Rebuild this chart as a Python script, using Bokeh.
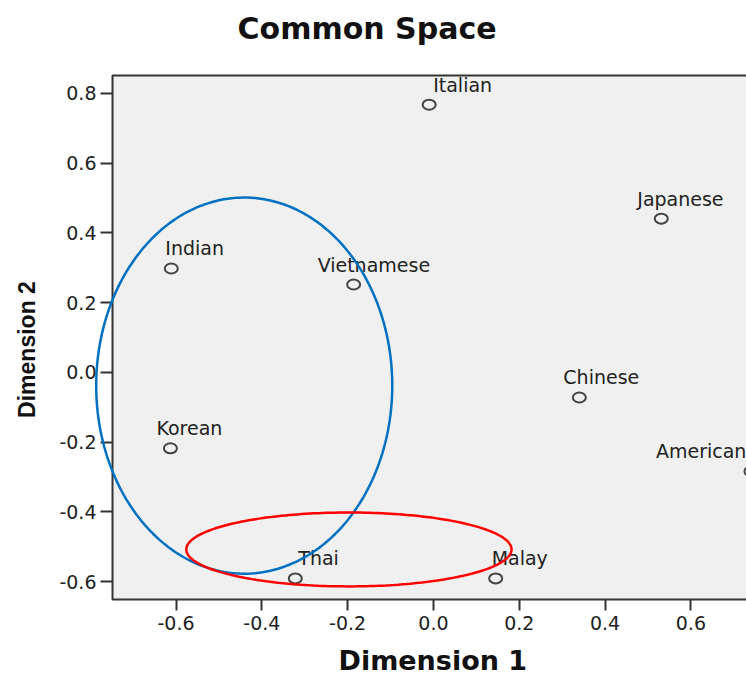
import numpy as np
from bokeh.plotting import figure
from bokeh.models import (ColumnDataSource, LabelSet, Label, FixedTicker, PrintfTickFormatter,
                          PolyAnnotation, BoxAnnotation, Range1d)
from bokeh.core.properties import value
from bokeh.embed import file_html
from bokeh.resources import INLINE

# ---- data ----
cuisines = ["Italian", "Japanese", "Indian", "Vietnamese", "Chinese", "Korean", "American", "Thai", "Malay"]
dim1 = [-0.010, 0.531, -0.611, -0.186, 0.340, -0.613, 0.740, -0.322, 0.145]
dim2 = [0.768, 0.441, 0.298, 0.252, -0.072, -0.218, -0.284, -0.591, -0.591]
x_ticks = [-0.6, -0.4, -0.2, 0.0, 0.2, 0.4, 0.6]
y_ticks = [-0.6, -0.4, -0.2, 0.0, 0.2, 0.4, 0.6, 0.8]
x_min, x_max = -0.748, 0.7296
y_min, y_max = -0.6516, 0.8516

# highlight ellipses: center x, center y, width, height (data units)
blue_ellipse = [-0.441, -0.038, 0.69, 1.079]
red_ellipse = [-0.197, -0.508, 0.758, 0.212]

# ---- layout (pixels) ----
W, H = 746, 677
area_left, area_right, area_top, area_bottom = 112, 746, 75, 599
label_dx = [4, -24, -6, -36, -16, -14, -95, 3, -4]
label_dy = [13, 13, 13, 13, 13, 13, 13, 13, 13]

sx = (area_right - area_left) / (x_max - x_min)
sy = (area_bottom - area_top) / (y_max - y_min)
x_lo, x_hi = x_min - area_left / sx, x_max + (W - area_right) / sx
y_lo, y_hi = y_min - (H - area_bottom) / sy, y_max + area_top / sy


def dx_(px):
    return x_lo + px / sx


def dy_(py):
    return y_hi - py / sy


src = ColumnDataSource(dict(x=dim1, y=dim2, name=cuisines, dx=label_dx, dy=label_dy))

p = figure(width=W, height=H, output_backend="svg", toolbar_location=None,
           x_range=Range1d(x_lo, x_hi), y_range=Range1d(y_lo, y_hi),
           min_border=0, min_border_left=0, min_border_right=0,
           min_border_top=0, min_border_bottom=0)
p.title.text = ""
p.background_fill_color = "white"
p.border_fill_color = "white"
p.outline_line_color = None
p.grid.visible = False

# grey plot area with its border
p.add_layout(BoxAnnotation(left=x_min, right=x_max + 0.05, bottom=y_min, top=y_max,
                           fill_color="#f0f0f0", fill_alpha=1.0,
                           line_color="#333333", line_width=2, line_alpha=1.0, level="underlay"))

for ax, ticks in ((p.xaxis, x_ticks), (p.yaxis, y_ticks)):
    ax.ticker = FixedTicker(ticks=ticks)
    ax.formatter = PrintfTickFormatter(format="%.1f")
    ax.minor_tick_line_color = None
    ax.major_tick_in = 0
    ax.major_tick_line_color = "#333333"
    ax.major_tick_line_width = 2
    ax.major_label_text_font = "DejaVu Sans"
    ax.major_label_text_font_size = "19px"
    ax.major_label_text_color = "#222222"
    ax.axis_line_color = None

p.xaxis.fixed_location = y_min
p.yaxis.fixed_location = x_min
p.xaxis.major_tick_out = 11
p.xaxis.major_label_standoff = 5
p.yaxis.major_tick_out = 12
p.yaxis.major_label_standoff = 4

# titles
p.add_layout(Label(x=dx_(237), y=dy_(28), text="Common Space", text_baseline="alphabetic",
                   text_align="left", text_font="DejaVu Sans", text_font_style="bold",
                   text_font_size="30px", text_color="#111111"))
p.add_layout(Label(x=dx_(338), y=dy_(660), text="Dimension 1", text_baseline="alphabetic",
                   text_align="left", text_font="DejaVu Sans", text_font_style="bold",
                   text_font_size="27px", text_color="#111111"))
p.add_layout(Label(x=dx_(26), y=dy_(349), text="Dimension 2", text_baseline="alphabetic",
                   text_align="center", angle=np.pi / 2, text_font="Liberation Sans",
                   text_font_style="bold", text_font_size="23px", text_color="#111111"))

# ellipses (outline shapes)
t = np.linspace(0, 2 * np.pi, 240)
for (cx, cy, w, h), col in ((blue_ellipse, "#0070c0"), (red_ellipse, "#ff0000")):
    xs = cx + w / 2 * np.cos(t)
    ys = cy + h / 2 * np.sin(t)
    p.add_layout(PolyAnnotation(xs=list(xs), ys=list(ys), fill_color=None, fill_alpha=0,
                                line_color=col, line_width=2.5, line_alpha=1.0, level="overlay"))

p.ellipse(x="x", y="y", width=13, height=10, width_units="screen", height_units="screen",
          source=src, fill_color=None, line_color="#444444", line_width=2)

labels = LabelSet(x="x", y="y", text="name", x_offset="dx", y_offset="dy", source=src,
                  text_font=value("DejaVu Sans"), text_font_size="19px", text_color="#222222",
                  text_baseline="alphabetic", text_align="left")
p.add_layout(labels)

open("out.html", "w").write(file_html(p, INLINE))
